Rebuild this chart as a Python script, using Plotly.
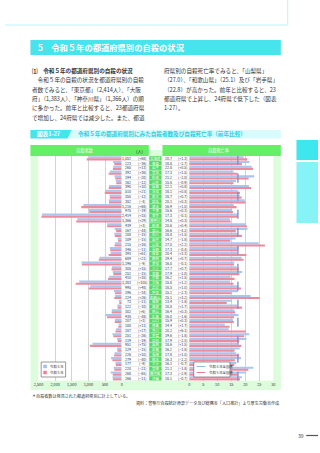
import plotly.graph_objects as go

W, H = 320, 453
FONT = "Noto Sans CJK JP"

prefectures = ["北海道", "青森", "岩手", "宮城", "秋田", "山形", "福島", "茨城", "栃木", "群馬",
               "埼玉", "千葉", "東京", "神奈川", "新潟", "富山", "石川", "福井", "山梨", "長野",
               "岐阜", "静岡", "愛知", "三重", "滋賀", "京都", "大阪", "兵庫", "奈良", "和歌山",
               "鳥取", "島根", "岡山", "広島", "山口", "徳島", "香川", "愛媛", "高知", "福岡",
               "佐賀", "長崎", "熊本", "大分", "宮崎", "鹿児島", "沖縄"]
count_r5 = [1052, 223, 265, 392, 194, 162, 390, 510, 355, 382,
            1216, 975, 2414, 1366, 439, 167, 208, 109, 215, 346,
            393, 689, 1196, 305, 252, 410, 1383, 995, 196, 224,
            73, 122, 302, 438, 207, 100, 187, 251, 119, 951,
            129, 226, 279, 177, 220, 268, 266]
count_chg = [68, -36, 13, 36, -20, -12, 10, 21, -12, -4,
             68, -19, 15, 29, 3, -44, -15, -15, 16, -11,
             61, 21, -9, 15, -15, 35, 105, 48, -34, 26,
             -11, -10, 6, -48, 3, 11, 17, -26, -19, 75,
             -15, 10, -40, -9, -21, -65, -11]
rate_r5 = [20.7, 18.8, 22.8, 17.3, 21.2, 15.8, 22.1, 18.1, 18.7, 20.1,
           16.9, 15.6, 17.3, 14.8, 20.6, 16.6, 18.8, 14.7, 27.0, 17.3,
           20.4, 19.4, 16.0, 17.7, 17.9, 16.2, 15.8, 18.5, 15.1, 25.1,
           13.4, 18.8, 16.4, 16.0, 15.9, 14.4, 20.2, 19.6, 17.9, 18.6,
           16.2, 17.8, 16.3, 16.1, 21.1, 17.3, 18.1]
rate_chg = [1.3, -2.7, 0.5, 1.5, -2.0, -0.9, 0.8, 0.8, 0.7, 0.3,
            1.0, 0.3, -0.1, 0.3, 0.4, -4.2, 1.5, -1.8, 2.2, -0.4,
            3.3, 0.7, -0.1, 0.7, -1.0, 1.5, 1.2, 1.0, -2.3, 3.2,
            -1.8, 1.7, 0.3, -1.6, 0.3, 1.7, 6.1, -1.8, -2.5, 1.5,
            -1.8, 1.0, -2.2, -0.7, -1.8, -2.9, -0.7]
count_r4 = [c - d for c, d in zip(count_r5, count_chg)]
rate_r4 = [round(r - d, 1) for r, d in zip(rate_r5, rate_chg)]
national_r4 = 17.5
national_r5 = 17.3
count_ticks = [2500, 2000, 1500, 1000, 500, 0]
rate_ticks = [0, 5, 10, 15, 20, 25, 30]

BLUE = "#a9c6ee"
PINK = "#ec8a9e"
GREEN = "#66ee66"
GREEN_D = "#4fdc5f"
GREEN_L = "#dcfcdc"
CYAN = "#48e4ee"
CYAN_L = "#d8fbfd"

def px(x):
    return x / W

def py(y):
    return 1 - y / H

n = len(prefectures)
idx = list(range(n))

fig = go.Figure()
fig.add_trace(go.Bar(y=idx, x=count_r4, orientation="h", marker=dict(color=BLUE, line=dict(width=0)),
                     xaxis="x", yaxis="y", name="令和４年", showlegend=False))
fig.add_trace(go.Bar(y=idx, x=count_r5, orientation="h", marker=dict(color=PINK, line=dict(width=0)),
                     xaxis="x", yaxis="y", name="令和５年", showlegend=False))
fig.add_trace(go.Bar(y=idx, x=rate_r4, orientation="h", marker=dict(color=BLUE, line=dict(width=0)),
                     xaxis="x2", yaxis="y", name="令和４年", showlegend=False))
fig.add_trace(go.Bar(y=idx, x=rate_r5, orientation="h", marker=dict(color=PINK, line=dict(width=0)),
                     xaxis="x2", yaxis="y", name="令和５年", showlegend=False))

ytop, ybot = 155.9, 380.7
shapes = []
ann = []

def A(text, x, y, xanchor="left", size=4, color="#333333", yref="paper"):
    ann.append(dict(text=text, x=x, y=y, xref="paper", yref=yref, xanchor=xanchor, yanchor="middle",
                    showarrow=False, font=dict(size=size, color=color, family=FONT)))

# top decoration
shapes.append(dict(type="line", xref="paper", yref="paper", x0=0, x1=px(289), y0=py(25), y1=py(25),
                   line=dict(color="#bdf3f7", width=1)))
shapes.append(dict(type="line", xref="paper", yref="paper", x0=px(289), x1=px(289), y0=py(0), y1=py(25),
                   line=dict(color="#bdf3f7", width=1)))
# section header
shapes.append(dict(type="rect", xref="paper", yref="paper", x0=px(26), x1=px(282), y0=py(55), y1=py(40),
                   fillcolor=CYAN, line=dict(width=0), layer="below"))
A("<b>5　令和５年の都道府県別の自殺の状況</b>", px(32), py(47.5), size=8.3, color="white")

left_lines = ["<b>⑴　令和５年の都道府県別の自殺の状況</b>",
              "　令和５年の自殺の状況を都道府県別の自殺",
              "者数でみると、「東京都」（2,414人）、「大阪",
              "府」（1,383人）、「神奈川県」（1,366人）の順",
              "に多かった。前年と比較すると、23都道府県",
              "で増加し、24府県では減少した。また、都道"]
right_lines = ["府県別の自殺死亡率でみると、「山梨県」",
               "（27.0）、「和歌山県」（25.1）及び「岩手県」",
               "（22.8）が高かった。前年と比較すると、23",
               "都道府県で上昇し、24府県で低下した（図表",
               "1-27）。"]
for i, t in enumerate(left_lines):
    A(t, px(26), py(71 + 9.3 * i), size=5.6)
for i, t in enumerate(right_lines):
    A(t, px(160), py(71 + 9.3 * i), size=5.6)

# caption bar
shapes.append(dict(type="rect", xref="paper", yref="paper", x0=px(26), x1=px(282), y0=py(138.5), y1=py(130),
                   fillcolor=CYAN_L, line=dict(width=0), layer="below"))
shapes.append(dict(type="path", xref="paper", yref="paper",
                   path=f"M {px(26)},{py(130)} L {px(68)},{py(130)} L {px(64)},{py(138.5)} L {px(26)},{py(138.5)} Z",
                   fillcolor=CYAN, line=dict(width=0), layer="below"))
A("<b>図表1-27</b>", px(45), py(134.2), xanchor="center", size=5.6, color="white")
A("<b>令和５年の都道府県別にみた自殺者数及び自殺死亡率（前年比較）</b>", px(73), py(134.2), size=5.6, color="#2ccfe0")

# chart backgrounds
shapes.append(dict(type="rect", xref="paper", yref="paper", x0=px(26), x1=px(282), y0=py(390), y1=py(150),
                   fillcolor=GREEN_L, line=dict(width=0), layer="below"))
shapes.append(dict(type="rect", xref="paper", yref="paper", x0=px(34), x1=px(147), y0=py(ybot), y1=py(ytop),
                   fillcolor="white", line=dict(width=0), layer="below"))
shapes.append(dict(type="rect", xref="paper", yref="paper", x0=px(160), x1=px(274.3), y0=py(ybot), y1=py(ytop),
                   fillcolor="white", line=dict(width=0), layer="below"))
# headers
shapes.append(dict(type="rect", xref="paper", yref="paper", x0=px(26), x1=px(147), y0=py(155.9), y1=py(145),
                   fillcolor=GREEN, line=dict(width=0), layer="below"))
shapes.append(dict(type="rect", xref="paper", yref="paper", x0=px(161), x1=px(282), y0=py(155.9), y1=py(145),
                   fillcolor=GREEN, line=dict(width=0), layer="below"))
A("自殺者数", px(82), py(150.5), xanchor="center", size=4.2, color="white")
A("(人)", px(138), py(150.5), xanchor="center", size=4.2)
A("自殺死亡率", px(218), py(150.5), xanchor="center", size=4.2, color="white")
# prefecture column
shapes.append(dict(type="rect", xref="paper", yref="paper", x0=px(147.5), x1=px(160), y0=py(ybot), y1=py(ytop),
                   fillcolor=GREEN_D, line=dict(width=0), layer="below"))

for i in range(n + 1):
    yy = i - 0.5
    shapes.append(dict(type="line", xref="paper", yref="y", x0=px(120), x1=px(147.5), y0=yy, y1=yy,
                       line=dict(color="#d6d6d6", width=0.5), layer="below"))
    shapes.append(dict(type="line", xref="paper", yref="y", x0=px(160), x1=px(188.3), y0=yy, y1=yy,
                       line=dict(color="#d6d6d6", width=0.5), layer="below"))
    shapes.append(dict(type="line", xref="paper", yref="y", x0=px(147.5), x1=px(160), y0=yy, y1=yy,
                       line=dict(color="white", width=0.5), layer="below"))

def fmt_int(v):
    return "(+{})".format(v) if v > 0 else "(−{})".format(-v)

def fmt_f(v):
    return "(+{:.1f})".format(v) if v > 0 else "(−{:.1f})".format(-v)

for i in range(n):
    A("{:,}".format(count_r5[i]), px(131), i, xanchor="right", size=3.6, yref="y")
    A(fmt_int(count_chg[i]), px(140.5), i, xanchor="center", size=3.6, yref="y")
    A(prefectures[i], px(153.8), i, xanchor="center", size=3.4, color="white", yref="y")
    A("{:.1f}".format(rate_r5[i]), px(172.5), i, xanchor="right", size=3.6, yref="y")
    A(fmt_f(rate_chg[i]), px(181.5), i, xanchor="center", size=3.6, yref="y")

# national average lines
shapes.append(dict(type="line", xref="x2", yref="paper", x0=national_r4, x1=national_r4,
                   y0=py(ybot), y1=py(ytop), line=dict(color="#7fa6e0", width=0.8, dash="dash")))
shapes.append(dict(type="line", xref="x2", yref="paper", x0=national_r5, x1=national_r5,
                   y0=py(ybot), y1=py(ytop), line=dict(color="#e0607a", width=0.8, dash="dash")))

# left legend
shapes.append(dict(type="rect", xref="paper", yref="paper", x0=px(37), x1=px(62), y0=py(377), y1=py(362),
                   fillcolor="white", line=dict(color="#555555", width=0.6)))
shapes.append(dict(type="rect", xref="paper", yref="paper", x0=px(39.5), x1=px(42.5), y0=py(368), y1=py(365),
                   fillcolor=BLUE, line=dict(color="#7fa6e0", width=0.4)))
shapes.append(dict(type="rect", xref="paper", yref="paper", x0=px(39.5), x1=px(42.5), y0=py(374), y1=py(371),
                   fillcolor=PINK, line=dict(color="#e0607a", width=0.4)))
A("令和４年", px(44), py(366.5), size=3.4)
A("令和５年", px(44), py(372.5), size=3.4)
# right legend
shapes.append(dict(type="rect", xref="paper", yref="paper", x0=px(193), x1=px(230), y0=py(377), y1=py(362),
                   fillcolor="white", line=dict(color="#555555", width=0.6)))
shapes.append(dict(type="line", xref="paper", yref="paper", x0=px(196), x1=px(205), y0=py(366.5), y1=py(366.5),
                   line=dict(color="#7fa6e0", width=0.8, dash="dash")))
shapes.append(dict(type="line", xref="paper", yref="paper", x0=px(196), x1=px(205), y0=py(372.5), y1=py(372.5),
                   line=dict(color="#e0607a", width=0.8, dash="dash")))
A("令和４年全国値", px(207), py(366.5), size=3.4)
A("令和５年全国値", px(207), py(372.5), size=3.4)

# notes
A("＊自殺者数は発見された都道府県別に計上している。", px(26), py(395.5), size=4.1)
A("資料：警察庁自殺統計原票データ及び総務省「人口推計」より厚生労働省作成", px(282), py(403), xanchor="right", size=4.1)

# side tab
shapes.append(dict(type="rect", xref="paper", yref="paper", x0=px(298), x1=px(320), y0=py(160), y1=py(140),
                   fillcolor="#3ee6ee", line=dict(width=0)))
shapes.append(dict(type="rect", xref="paper", yref="paper", x0=px(298), x1=px(320), y0=py(223), y1=py(162),
                   fillcolor="#86f4f6", line=dict(width=0)))
# page number
A("39", px(303), py(435.5), xanchor="center", size=5)
shapes.append(dict(type="line", xref="paper", yref="paper", x0=px(308), x1=px(320), y0=py(435.5), y1=py(435.5),
                   line=dict(color="#555555", width=1.2)))

fig.update_layout(
    width=W, height=H, margin=dict(l=0, r=0, t=0, b=0),
    paper_bgcolor="white", plot_bgcolor="rgba(0,0,0,0)",
    barmode="group", bargap=0.12, bargroupgap=0,
    showlegend=False,
    font=dict(family=FONT, size=4, color="#333333"),
    xaxis=dict(domain=[px(34.3), px(119.3)], range=[2500, 0], anchor="y",
               tickvals=count_ticks, tickformat=",", showgrid=True, gridcolor="#d4d4d4", gridwidth=0.5,
               zeroline=False, showline=False, ticks="", tickfont=dict(size=3.8, family=FONT, color="#333333"),
               ticklabelstandoff=0),
    xaxis2=dict(domain=[px(188.3), px(274.3)], range=[0, 30], anchor="y",
                tickvals=rate_ticks, showgrid=True, gridcolor="#d4d4d4", gridwidth=0.5,
                zeroline=False, showline=False, ticks="", tickfont=dict(size=3.8, family=FONT, color="#333333"),
                ticklabelstandoff=0),
    yaxis=dict(domain=[py(ybot), py(ytop)], range=[n - 0.5, -0.5], showticklabels=False,
               showgrid=False, zeroline=False, ticks=""),
    shapes=shapes, annotations=ann,
)
fig.write_html("out.html")
